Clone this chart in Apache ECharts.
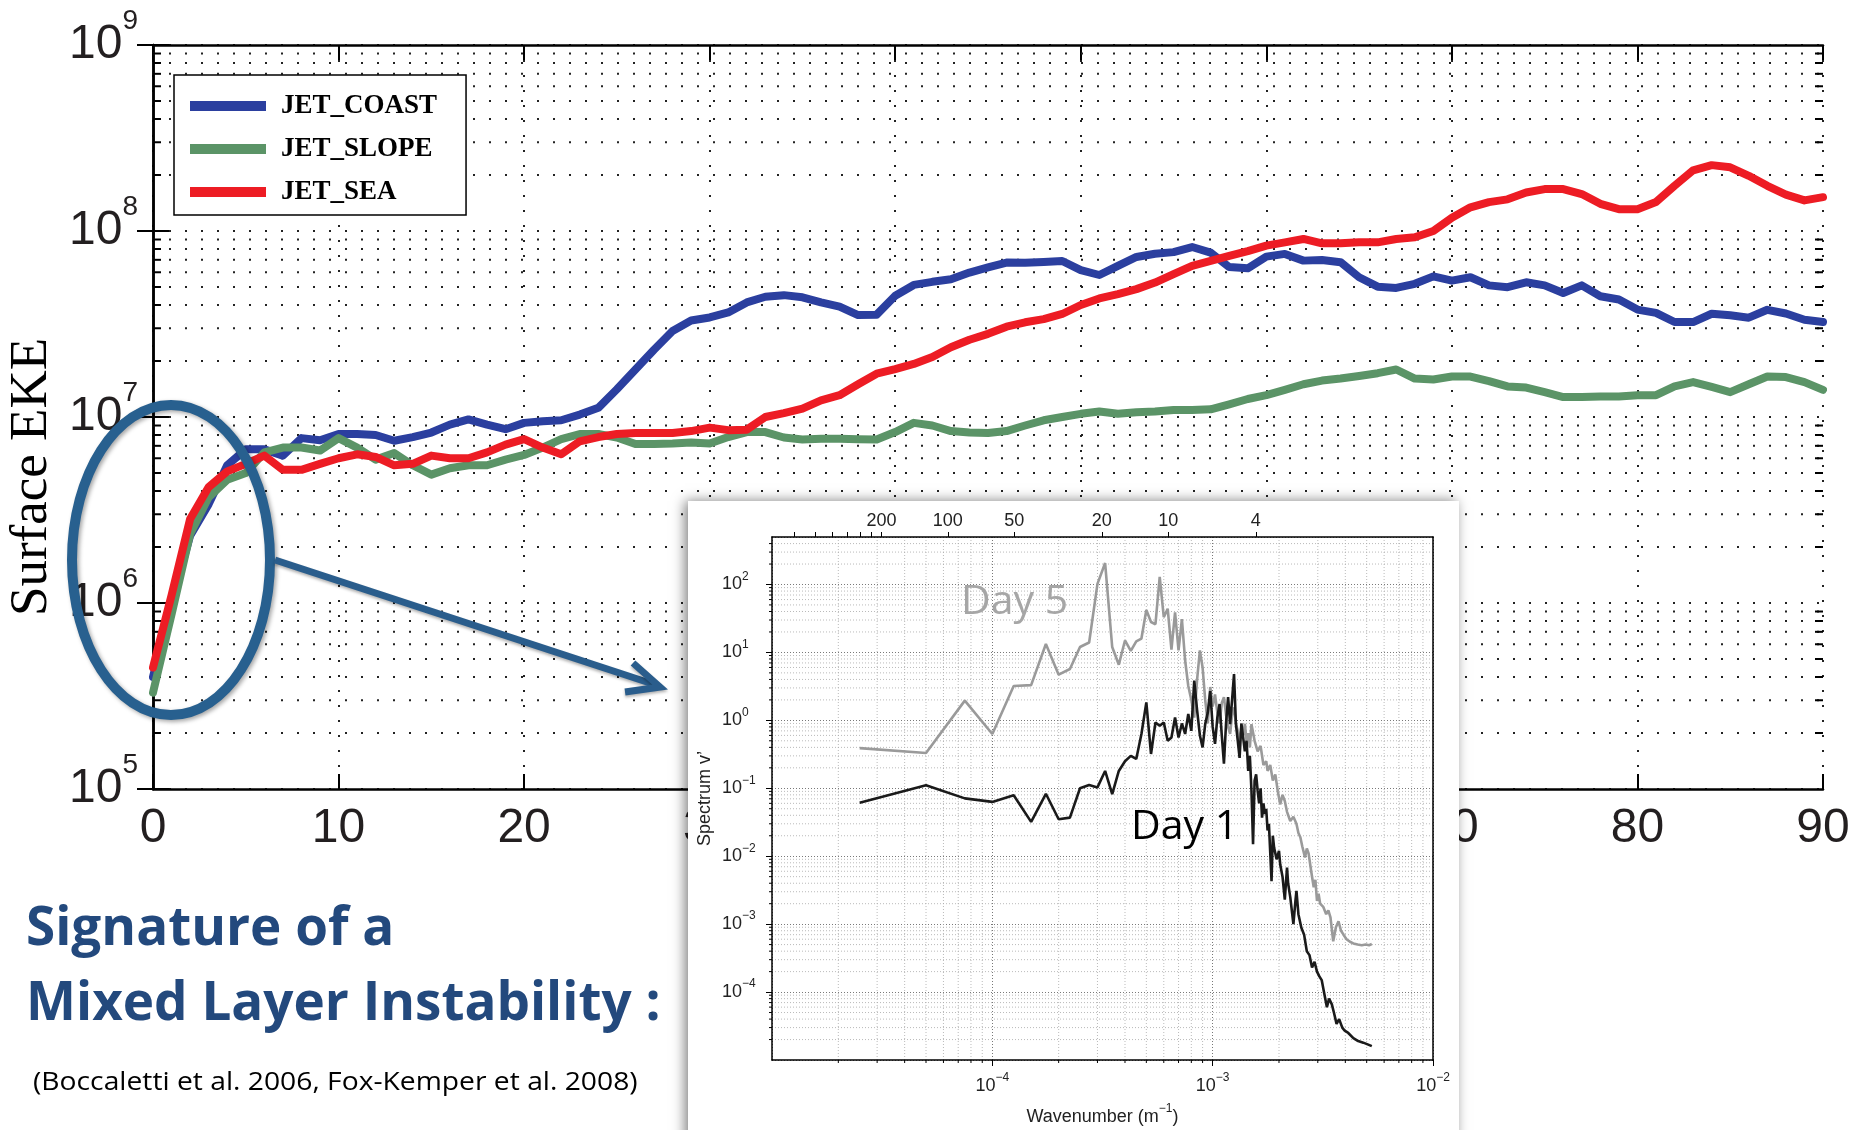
<!DOCTYPE html>
<html><head><meta charset="utf-8">
<script src="https://cdn.jsdelivr.net/npm/echarts@6/dist/echarts.min.js"></script>
<style>html,body{margin:0;padding:0;background:#fff}#c{width:1860px;height:1130px}</style>
</head><body><div id="c"></div>
<script>
// ---------------- main chart data ----------------
const days = [0,1,2,3,4,5,6,7,8,9,10,11,12,13,14,15,16,17,18,19,20,21,22,23,24,25,26,27,28,29,30,31,32,33,34,35,36,37,38,39,40,41,42,43,44,45,46,47,48,49,50,51,52,53,54,55,56,57,58,59,60,61,62,63,64,65,66,67,68,69,70,71,72,73,74,75,76,77,78,79,80,81,82,83,84,85,86,87,88,89,90];
const jetCoast = [4.0e5,1.0e6,2.3e6,3.4e6,5.5e6,6.7e6,6.7e6,6.2e6,7.7e6,7.5e6,8.1e6,8.1e6,8.0e6,7.45e6,7.8e6,8.25e6,9.1e6,9.7e6,9.1e6,8.6e6,9.3e6,9.5e6,9.6e6,1.03e7,1.12e7,1.41e7,1.8e7,2.3e7,2.9e7,3.3e7,3.43e7,3.65e7,4.13e7,4.43e7,4.52e7,4.4e7,4.13e7,3.92e7,3.53e7,3.55e7,4.49e7,5.13e7,5.33e7,5.5e7,5.98e7,6.37e7,6.77e7,6.75e7,6.82e7,6.9e7,6.16e7,5.8e7,6.5e7,7.25e7,7.55e7,7.7e7,8.2e7,7.65e7,6.4e7,6.3e7,7.28e7,7.53e7,6.93e7,6.98e7,6.8e7,5.64e7,5.02e7,4.94e7,5.2e7,5.7e7,5.41e7,5.64e7,5.1e7,4.99e7,5.3e7,5.1e7,4.64e7,5.1e7,4.46e7,4.28e7,3.78e7,3.63e7,3.24e7,3.24e7,3.59e7,3.52e7,3.42e7,3.77e7,3.6e7,3.33e7,3.24e7];
const jetSlope = [3.3e5,8.7e5,2.35e6,3.7e6,4.6e6,5.0e6,6.45e6,6.85e6,6.85e6,6.6e6,7.7e6,6.85e6,5.9e6,6.4e6,5.5e6,4.9e6,5.3e6,5.5e6,5.5e6,5.9e6,6.25e6,6.85e6,7.6e6,8.1e6,8.1e6,7.75e6,7.15e6,7.15e6,7.2e6,7.3e6,7.2e6,7.8e6,8.3e6,8.3e6,7.76e6,7.57e6,7.65e6,7.65e6,7.6e6,7.57e6,8.3e6,9.3e6,9.0e6,8.4e6,8.25e6,8.2e6,8.4e6,9.0e6,9.6e6,1.0e7,1.04e7,1.07e7,1.04e7,1.06e7,1.07e7,1.09e7,1.09e7,1.1e7,1.17e7,1.25e7,1.31e7,1.4e7,1.5e7,1.57e7,1.61e7,1.66e7,1.72e7,1.8e7,1.61e7,1.59e7,1.65e7,1.65e7,1.56e7,1.46e7,1.44e7,1.36e7,1.28e7,1.28e7,1.29e7,1.29e7,1.31e7,1.31e7,1.46e7,1.54e7,1.45e7,1.36e7,1.5e7,1.65e7,1.64e7,1.54e7,1.4e7];
const jetSea = [4.5e5,1.1e6,2.83e6,4.2e6,5.1e6,5.6e6,6.2e6,5.2e6,5.2e6,5.6e6,6.0e6,6.3e6,6.1e6,5.5e6,5.6e6,6.2e6,6.0e6,6.0e6,6.45e6,7.1e6,7.6e6,6.85e6,6.3e6,7.4e6,7.8e6,8.1e6,8.2e6,8.2e6,8.2e6,8.4e6,8.77e6,8.5e6,8.55e6,1.0e7,1.05e7,1.11e7,1.23e7,1.31e7,1.5e7,1.71e7,1.81e7,1.93e7,2.1e7,2.37e7,2.6e7,2.8e7,3.06e7,3.23e7,3.36e7,3.58e7,4.0e7,4.34e7,4.58e7,4.87e7,5.28e7,5.86e7,6.5e7,6.9e7,7.35e7,7.8e7,8.35e7,8.69e7,9.06e7,8.59e7,8.59e7,8.69e7,8.69e7,9.06e7,9.25e7,1.0e8,1.18e8,1.34e8,1.43e8,1.48e8,1.61e8,1.68e8,1.68e8,1.58e8,1.4e8,1.31e8,1.31e8,1.43e8,1.75e8,2.12e8,2.26e8,2.2e8,1.98e8,1.75e8,1.57e8,1.46e8,1.52e8];
const seriesNames = ['JET_COAST','JET_SLOPE','JET_SEA'];
const seriesColors = ['#2b3f9f','#5b9467','#ed1c24'];
const eekeMinorTicks = [2e5,3e5,4e5,5e5,6e5,7e5,8e5,9e5,2e6,3e6,4e6,5e6,6e6,7e6,8e6,9e6,2e7,3e7,4e7,5e7,6e7,7e7,8e7,9e7,2e8,3e8,4e8,5e8,6e8,7e8,8e8,9e8];

// ---------------- inset spectrum data ----------------
const day5K = [25e-6,50e-6,75e-6,100e-6,125e-6,150e-6,175e-6,200e-6,225e-6,250e-6,275e-6,300e-6,325e-6,350e-6,375e-6,400e-6,425e-6,450e-6,475e-6,500e-6,525e-6,550e-6,575e-6,600e-6,625e-6,650e-6,675e-6,700e-6,725e-6,750e-6,775e-6,800e-6,825e-6,850e-6,875e-6,900e-6,925e-6,950e-6,975e-6,1000e-6,1025e-6,1050e-6,1075e-6,1100e-6,1125e-6,1150e-6,1175e-6,1200e-6,1225e-6,1250e-6,1275e-6,1300e-6,1325e-6,1350e-6,1375e-6,1400e-6,1425e-6,1450e-6,1475e-6,1500e-6,1550e-6,1600e-6,1650e-6,1700e-6,1750e-6,1775e-6,1825e-6,1875e-6,1925e-6,1975e-6,2025e-6,2075e-6,2125e-6,2175e-6,2250e-6,2325e-6,2400e-6,2450e-6,2500e-6,2550e-6,2625e-6,2675e-6,2725e-6,2800e-6,2875e-6,2925e-6,2975e-6,3025e-6,3075e-6,3175e-6,3275e-6,3350e-6,3425e-6,3525e-6,3625e-6,3725e-6,3825e-6,3925e-6,4050e-6,4200e-6,4350e-6,4550e-6,4750e-6,4950e-6,5125e-6,5275e-6];
const day5S = [0.39,0.33,1.95,0.63,3.2,3.3,13.3,4.7,5.7,12,14,102,207,12,6.6,15,10.5,14.5,16,42,28,26,129,33,44,11,39,10.7,31,7.6,3.2,2.0,1.1,4.0,10.7,6.0,2.0,0.9,3.1,1.6,2.4,1.3,0.9,1.8,2.2,1.2,0.8,0.63,1.2,1.55,0.9,0.7,0.45,0.8,0.6,0.89,0.5,0.65,0.4,0.88,0.5,0.35,0.42,0.22,0.25,0.18,0.22,0.13,0.16,0.09,0.058,0.08,0.065,0.045,0.033,0.038,0.030,0.022,0.019,0.014,0.0096,0.013,0.011,0.006,0.0035,0.0045,0.0022,0.0028,0.002,0.0018,0.0014,0.0016,0.00126,0.00056,0.0009,0.0011,0.0008,0.0007,0.0006,0.00055,0.00052,0.0005,0.00049,0.0005,0.00049,0.00051];
const day1K = [25e-6,50e-6,75e-6,100e-6,125e-6,150e-6,175e-6,200e-6,225e-6,250e-6,275e-6,300e-6,325e-6,350e-6,375e-6,400e-6,425e-6,450e-6,475e-6,500e-6,525e-6,550e-6,575e-6,600e-6,625e-6,650e-6,675e-6,700e-6,725e-6,750e-6,775e-6,800e-6,825e-6,850e-6,875e-6,900e-6,925e-6,950e-6,975e-6,1000e-6,1025e-6,1050e-6,1075e-6,1100e-6,1125e-6,1150e-6,1175e-6,1200e-6,1225e-6,1250e-6,1275e-6,1300e-6,1325e-6,1350e-6,1375e-6,1400e-6,1425e-6,1450e-6,1475e-6,1500e-6,1525e-6,1550e-6,1575e-6,1600e-6,1625e-6,1650e-6,1675e-6,1700e-6,1725e-6,1750e-6,1775e-6,1800e-6,1850e-6,1875e-6,1900e-6,1950e-6,2000e-6,2025e-6,2075e-6,2125e-6,2175e-6,2200e-6,2250e-6,2325e-6,2375e-6,2400e-6,2450e-6,2525e-6,2600e-6,2675e-6,2750e-6,2825e-6,2900e-6,2975e-6,3050e-6,3125e-6,3200e-6,3300e-6,3375e-6,3475e-6,3550e-6,3650e-6,3750e-6,3875e-6,3975e-6,4125e-6,4350e-6,4575e-6,4825e-6,5050e-6,5275e-6];
const day1S = [0.061,0.111,0.071,0.063,0.079,0.032,0.083,0.035,0.037,0.10,0.112,0.103,0.18,0.082,0.18,0.25,0.30,0.27,0.63,1.84,0.32,0.93,0.83,0.93,0.5,0.56,1.1,0.56,0.9,0.63,1.24,0.7,3.85,1.4,0.6,0.4,0.88,1.3,2.7,0.8,0.45,1.1,1.74,0.6,0.23,0.9,2.2,0.88,2.0,4.8,0.88,0.5,0.28,0.9,0.56,0.35,0.5,0.18,0.3,0.092,0.015,0.13,0.16,0.092,0.06,0.1,0.037,0.06,0.042,0.05,0.024,0.03,0.0043,0.02,0.0134,0.009,0.012,0.0076,0.005,0.0023,0.0068,0.004,0.0025,0.001,0.0022,0.0031,0.0014,0.00089,0.0007,0.0004,0.00035,0.00023,0.00028,0.0002,0.00017,0.00015,0.0001,0.00006,0.00008,0.000066,0.00005,0.000034,0.00004,0.00003,0.000027,0.000025,0.000021,0.000019,0.000018,0.000017,0.000016];
const wavelengthLabelsKm = [200,100,50,20,10,4];
const wavelengthMinorKm = [500,400,333.3,285.7,250,222.2];
const kMinorTicks = [2e-5,3e-5,4e-5,5e-5,6e-5,7e-5,8e-5,9e-5,2e-4,3e-4,4e-4,5e-4,6e-4,7e-4,8e-4,9e-4,2e-3,3e-3,4e-3,5e-3,6e-3,7e-3,8e-3,9e-3];
const specMinorTicks = [2e-5,3e-5,4e-5,5e-5,6e-5,7e-5,8e-5,9e-5,2e-4,3e-4,4e-4,5e-4,6e-4,7e-4,8e-4,9e-4,2e-3,3e-3,4e-3,5e-3,6e-3,7e-3,8e-3,9e-3,2e-2,3e-2,4e-2,5e-2,6e-2,7e-2,8e-2,9e-2,0.2,0.3,0.4,0.5,0.6,0.7,0.8,0.9,2,3,4,5,6,7,8,9,20,30,40,50,60,70,80,90,200,300,400];

// ---------------- helpers ----------------
const lamToK = km => 2 * Math.PI / (km * 1000);
const kToLam = k => Math.round(2 * Math.PI / (k * 1000));
const expStr = v => { const e = Math.round(Math.log10(v)); return e < 0 ? '\u2212' + (-e) : String(e); };
const SANS = 'Liberation Sans';

const chart = echarts.init(document.getElementById('c'), null, {renderer: 'canvas'});

const mainLines = [jetCoast, jetSlope, jetSea].map((vals, i) => ({
  name: seriesNames[i], type: 'line', xAxisIndex: 0, yAxisIndex: 0,
  data: days.map((d, j) => [d, vals[j]]), symbol: 'none', silent: true,
  lineStyle: {width: 8, color: seriesColors[i], join: 'round', cap: 'round'},
  itemStyle: {color: seriesColors[i]}, z: 3 + i
}));

const insetRich = {
  b: {fontFamily: SANS, fontSize: 18, color: '#222', lineHeight: 28},
  s: {fontFamily: SANS, fontSize: 12, color: '#222', lineHeight: 12, verticalAlign: 'top'}
};

const option = {
  animation: false,
  backgroundColor: '#fff',
  grid: [
    {left: 153, top: 45, width: 1670, height: 744, outerBoundsMode: 'none'},
    {left: 772, top: 537, width: 661, height: 523, outerBoundsMode: 'none'}
  ],
  legend: {
    data: seriesNames, orient: 'vertical', left: 174, top: 75,
    itemWidth: 76, itemHeight: 10, itemGap: 15, icon: 'rect', selectedMode: false,
    padding: [17, 29, 9, 16], backgroundColor: '#fff', borderColor: '#000', borderWidth: 1.5,
    textStyle: {fontFamily: 'Liberation Serif', fontWeight: 'bold', fontSize: 27, color: '#000', lineHeight: 28, padding: [0, 0, 0, 10]}
  },
  xAxis: [
    {type: 'value', gridIndex: 0, min: 0, max: 90, interval: 10, position: 'bottom',
     axisLine: {lineStyle: {color: '#000', width: 2.5}},
     axisTick: {inside: true, length: 15, lineStyle: {color: '#000', width: 2}},
     axisLabel: {fontFamily: SANS, fontSize: 48, color: '#231f20', margin: 16},
     splitLine: {show: true, lineStyle: {color: '#222', width: 2, type: [2, 13]}}},
    {type: 'value', gridIndex: 0, min: 0, max: 90, interval: 10, position: 'top',
     axisLine: {lineStyle: {color: '#000', width: 2.5}},
     axisTick: {inside: true, length: 15, lineStyle: {color: '#000', width: 2}},
     axisLabel: {show: false}, splitLine: {show: false}},
    {type: 'log', logBase: 10, gridIndex: 1, min: 1e-5, max: 1e-2, position: 'bottom', z: 60,
     axisLine: {lineStyle: {color: '#000', width: 1.5}},
     axisTick: {inside: false, length: 6, lineStyle: {color: '#000', width: 1}},
     axisLabel: {showMinLabel: false, margin: 12, color: '#222',
       formatter: v => '{b|10}{s|' + expStr(v) + '}',
       rich: insetRich},
     splitLine: {show: true, lineStyle: {color: '#555', width: 0.8, type: [1, 2]}},
     name: '{n|Wavenumber (m}{s|\u22121}{n|)}', nameLocation: 'middle', nameGap: 43,
     nameTextStyle: {rich: {n: insetRich.b, s: insetRich.s}}},
    {type: 'log', logBase: 10, gridIndex: 1, min: 1e-5, max: 1e-2, position: 'top', z: 60,
     axisLine: {lineStyle: {color: '#000', width: 1.5}},
     axisTick: {inside: false, length: 5, lineStyle: {color: '#000', width: 1},
                customValues: wavelengthMinorKm.concat(wavelengthLabelsKm).map(lamToK)},
     axisLabel: {customValues: wavelengthLabelsKm.map(lamToK), formatter: v => String(kToLam(v)),
                 fontFamily: SANS, fontSize: 18, color: '#222', margin: 7},
     splitLine: {show: false}}
  ],
  yAxis: [
    {type: 'log', logBase: 10, gridIndex: 0, min: 1e5, max: 1e9, position: 'left',
     axisLine: {lineStyle: {color: '#000', width: 2.5}},
     axisTick: {inside: true, length: 16, lineStyle: {color: '#000', width: 2}},
     axisLabel: {align: 'left', margin: 84,
       formatter: v => '{b|10}{s|' + expStr(v) + '}',
       rich: {b: {fontFamily: SANS, fontSize: 48, color: '#231f20', lineHeight: 76},
              s: {fontFamily: SANS, fontSize: 28, color: '#231f20', lineHeight: 28, verticalAlign: 'top'}}},
     splitLine: {show: true, lineStyle: {color: '#222', width: 2, type: [2, 14]}},
     name: 'Surface EKE', nameLocation: 'middle', nameGap: 84,
     nameTextStyle: {fontFamily: 'Liberation Serif', fontSize: 53, color: '#000', padding: [0, 120, 0, 0]}},
    {type: 'log', logBase: 10, gridIndex: 0, min: 1e5, max: 1e9, position: 'right',
     axisLine: {lineStyle: {color: '#000', width: 2.5}},
     axisTick: {inside: true, length: 16, lineStyle: {color: '#000', width: 2}},
     axisLabel: {show: false}, splitLine: {show: false}},
    {type: 'log', logBase: 10, gridIndex: 1, min: 1e-5, max: 500, interval: 1, position: 'left', z: 60,
     axisLine: {lineStyle: {color: '#000', width: 1.5}},
     axisTick: {inside: false, length: 6, lineStyle: {color: '#000', width: 1}},
     axisLabel: {align: 'left', margin: 50, showMinLabel: false, showMaxLabel: false,
       formatter: v => '{b|10}{s|' + expStr(v) + '}',
       rich: insetRich},
     splitLine: {show: true, lineStyle: {color: '#555', width: 0.8, type: [1, 2]}},
     name: 'Spectrum v\u2019', nameLocation: 'middle', nameGap: 58,
     nameTextStyle: {fontFamily: SANS, fontSize: 18, color: '#222'}},
    {type: 'log', logBase: 10, gridIndex: 1, min: 1e-5, max: 500, interval: 1, position: 'right', z: 60,
     axisLine: {lineStyle: {color: '#000', width: 1.5}},
     axisTick: {show: false}, axisLabel: {show: false}, splitLine: {show: false}}
  ],
  series: [
    {type: 'custom', name: 'eekeMinor', xAxisIndex: 0, yAxisIndex: 0, silent: true, z: 1,
     data: eekeMinorTicks.map(v => [0, v]), encode: {x: 0, y: 1},
     renderItem: (params, api) => {
       const cs = params.coordSys;
       const y = api.coord([0, api.value(1)])[1];
       return {type: 'group', children: [
         {type: 'line', shape: {x1: cs.x, y1: y, x2: cs.x + cs.width, y2: y}, style: {stroke: '#222', lineWidth: 2, lineDash: [2, 14]}},
         {type: 'line', shape: {x1: cs.x, y1: y, x2: cs.x + 8, y2: y}, style: {stroke: '#000', lineWidth: 2}},
         {type: 'line', shape: {x1: cs.x + cs.width - 8, y1: y, x2: cs.x + cs.width, y2: y}, style: {stroke: '#000', lineWidth: 2}}
       ]};
     }},
    ...mainLines,
    {type: 'custom', name: 'kMinor', xAxisIndex: 2, yAxisIndex: 2, silent: true, z: 60,
     data: kMinorTicks.map(v => [v, 1]), encode: {x: 0, y: 1},
     renderItem: (params, api) => {
       const cs = params.coordSys;
       const x = api.coord([api.value(0), 1])[0];
       return {type: 'group', children: [
         {type: 'line', shape: {x1: x, y1: cs.y, x2: x, y2: cs.y + cs.height}, style: {stroke: '#a8a8a8', lineWidth: 0.8, lineDash: [1, 2]}},
         {type: 'line', shape: {x1: x, y1: cs.y + cs.height, x2: x, y2: cs.y + cs.height + 3}, style: {stroke: '#000', lineWidth: 1}}
       ]};
     }},
    {type: 'custom', name: 'specMinor', xAxisIndex: 2, yAxisIndex: 2, silent: true, z: 60,
     data: specMinorTicks.map(v => [1e-4, v]), encode: {x: 0, y: 1},
     renderItem: (params, api) => {
       const cs = params.coordSys;
       const y = api.coord([1e-4, api.value(1)])[1];
       return {type: 'group', children: [
         {type: 'line', shape: {x1: cs.x, y1: y, x2: cs.x + cs.width, y2: y}, style: {stroke: '#a8a8a8', lineWidth: 0.8, lineDash: [1, 2]}},
         {type: 'line', shape: {x1: cs.x - 3, y1: y, x2: cs.x, y2: y}, style: {stroke: '#000', lineWidth: 1}}
       ]};
     }},
    {name: 'Day 5', type: 'line', xAxisIndex: 2, yAxisIndex: 2, z: 61, silent: true, symbol: 'none',
     data: day5K.map((k, i) => [k, day5S[i]]), lineStyle: {width: 2.6, color: '#9a9a9a'}},
    {name: 'Day 1', type: 'line', xAxisIndex: 2, yAxisIndex: 2, z: 62, silent: true, symbol: 'none',
     data: day1K.map((k, i) => [k, day1S[i]]), lineStyle: {width: 2.6, color: '#1a1a1a'}}
  ],
  graphic: [
    {type: 'rect', z: 50, silent: true, shape: {x: 688, y: 501, width: 771, height: 660},
     style: {fill: '#fff', shadowBlur: 12, shadowColor: 'rgba(0,0,0,0.5)', shadowOffsetX: -3}},
    {type: 'ellipse', z: 55, silent: true, shape: {cx: 171, cy: 560, rx: 99, ry: 155},
     style: {fill: 'none', stroke: '#28608f', lineWidth: 10, shadowBlur: 4, shadowColor: 'rgba(0,0,0,0.35)', shadowOffsetX: 2, shadowOffsetY: 2}},
    {type: 'line', z: 55, silent: true, shape: {x1: 275, y1: 560, x2: 656, y2: 685},
     style: {stroke: '#2a5d8c', lineWidth: 7, shadowBlur: 3, shadowColor: 'rgba(0,0,0,0.3)', shadowOffsetY: 2}},
    {type: 'polyline', z: 55, silent: true, shape: {points: [[633, 663], [660, 687], [625, 692]]},
     style: {stroke: '#2a5d8c', lineWidth: 7, fill: 'none', lineJoin: 'miter', shadowBlur: 3, shadowColor: 'rgba(0,0,0,0.3)', shadowOffsetY: 2}},
    {type: 'text', z: 56, silent: true, x: 26, y: 930,
     style: {text: 'Signature of a', fontFamily: 'Open Sans', fontWeight: 'bold', fontSize: 53, fill: '#23497d', align: 'left', verticalAlign: 'middle'}},
    {type: 'text', z: 56, silent: true, x: 26, y: 1005,
     style: {text: 'Mixed Layer Instability :', fontFamily: 'Open Sans', fontWeight: 'bold', fontSize: 53, fill: '#23497d', align: 'left', verticalAlign: 'middle'}},
    {type: 'text', z: 56, silent: true, x: 33, y: 1083, scaleX: 1.13,
     style: {text: '(Boccaletti et al. 2006, Fox-Kemper et al. 2008)', fontFamily: 'Open Sans', fontSize: 25, fill: '#000', align: 'left', verticalAlign: 'middle'}},
    {type: 'text', z: 63, silent: true, x: 961, y: 602,
     style: {text: 'Day 5', fontFamily: 'Open Sans', fontSize: 41, fill: '#a6a6a6', align: 'left', verticalAlign: 'middle'}},
    {type: 'text', z: 63, silent: true, x: 1131, y: 827,
     style: {text: 'Day 1', fontFamily: 'Open Sans', fontSize: 41, fill: '#000', align: 'left', verticalAlign: 'middle'}}
  ]
};
chart.setOption(option);
</script>
</body></html>
